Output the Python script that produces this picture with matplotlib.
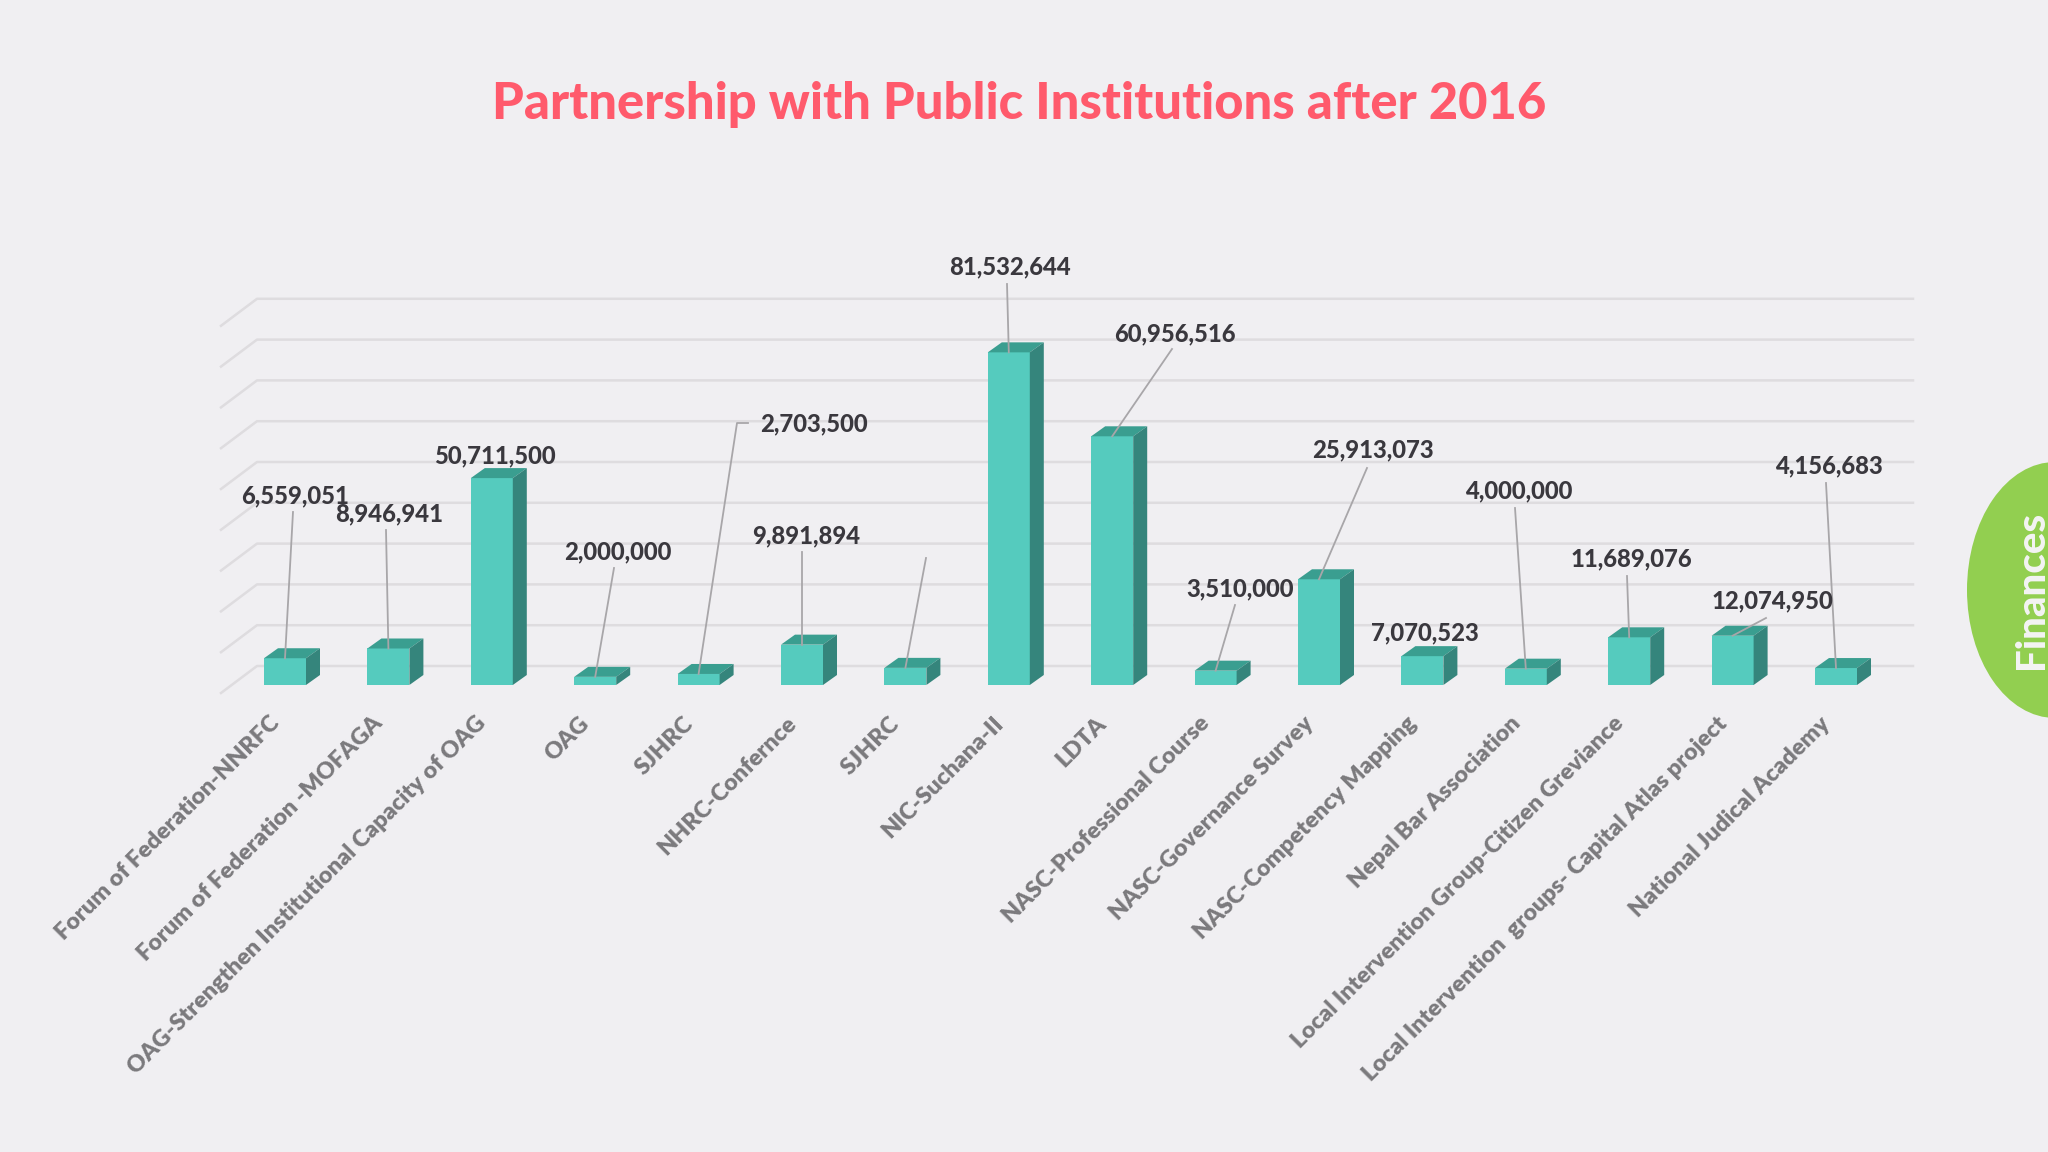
import matplotlib
matplotlib.use("Agg")
import matplotlib.pyplot as plt
from matplotlib.patches import Polygon, Ellipse

categories = ["Forum of Federation-NNRFC", "Forum of Federation -MOFAGA",
              "OAG-Strengthen Institutional Capacity of OAG", "OAG", "SJHRC",
              "NHRC-Confernce", "SJHRC", "NIC-Suchana-II", "LDTA",
              "NASC-Professional Course", "NASC-Governance Survey",
              "NASC-Competency Mapping", "Nepal Bar Association",
              "Local Intervention Group-Citizen Greviance",
              "Local Intervention  groups- Capital Atlas project",
              "National Judical Academy"]
values = [6559051, 8946941, 50711500, 2000000, 2703500, 9891894, 4200000, 81532644,
          60956516, 3510000, 25913073, 7070523, 4000000, 11689076, 12074950, 4156683]
value_labels = ["6,559,051", "8,946,941", "50,711,500", "2,000,000", "2,703,500", "9,891,894",
                None, "81,532,644", "60,956,516", "3,510,000", "25,913,073", "7,070,523",
                "4,000,000", "11,689,076", "12,074,950", "4,156,683"]
grid_levels = [0, 10, 20, 30, 40, 50, 60, 70, 80, 90]

# layout, in reference pixels
label_xy = [(295, 496), (389, 514), (495, 456), (618, 552), (814, 424), (806, 536), None,
            (1010, 267), (1175, 334), (1240, 589), (1373, 450), (1425, 633), (1519, 491),
            (1631, 559), (1772, 601), (1829, 466)]
leader_xy = [(293, 512), (386, 530), None, (614, 568), (737, 423), (802, 552), (926, 558),
             (1007, 284), (1172, 349), (1235, 605), (1367, 468), None, (1515, 508),
             (1627, 576), (1766, 618), (1826, 483)]

BG = "#F0EFF2"
FRONT, TOP, SIDE = "#55CBBE", "#3A9E90", "#35857C"
GRID = "#DEDCDF"
STEP, PER_M = 103.4, 4.08  # pixels per category, pixels per million
X0, Y0 = 285, 685


def px(x, y):
    return (x - X0) / STEP, (Y0 - y) / PER_M


plt.rcParams["font.family"] = ["Lato", "DejaVu Sans"]

fig = plt.figure(figsize=(20.48, 11.52), dpi=100, facecolor=BG)
ax = fig.add_axes([0, 0, 1, 1])
ax.set_xlim((0 - X0) / STEP, (2048 - X0) / STEP)
ax.set_ylim((Y0 - 1152) / PER_M, Y0 / PER_M)
ax.axis("off")

hw = 21 / STEP
dx, dy = 14 / STEP, 10 / PER_M

# floor/wall grid
back_dx = 36 / STEP
left = (221 - X0) / STEP
right = (1913 - X0) / STEP
for g in grid_levels:
    yf = g + (685 - 693) / PER_M
    ax.plot([left, left + back_dx, right], [yf, yf + 27 / PER_M, yf + 27 / PER_M],
            color=GRID, lw=1.8, zorder=1, solid_joinstyle="round")

# 3D bars
for i, v in enumerate(values):
    h = v / 1e6
    ax.add_patch(Polygon([(i - hw, 0), (i + hw, 0), (i + hw, h), (i - hw, h)], fc=FRONT, ec="none", zorder=3))
    ax.add_patch(Polygon([(i - hw, h), (i + hw, h), (i + hw + dx, h + dy), (i - hw + dx, h + dy)], fc=TOP, ec="none", zorder=3))
    ax.add_patch(Polygon([(i + hw, 0), (i + hw + dx, dy), (i + hw + dx, h + dy), (i + hw, h)], fc=SIDE, ec="none", zorder=3))

# leader lines
for i, v in enumerate(values):
    if leader_xy[i] is None:
        continue
    lx, ly = px(*leader_xy[i])
    xs, ys = [lx, i], [ly, v / 1e6]
    if i == 4:
        hx, _ = px(748, 423)
        xs, ys = [hx, lx, i], [ly, ly, v / 1e6]
    ax.plot(xs, ys, color="#A8A6A9", lw=1.3, zorder=4)

# value labels
for i, lab in enumerate(value_labels):
    if lab is None:
        continue
    lx, ly = px(*label_xy[i])
    ax.text(lx, ly, lab, ha="center", va="center", fontsize=17.2, fontweight="black", color="#3A383E", zorder=5)

# category labels
for i, c in enumerate(categories):
    ax.text(i - 0.16, -6.8, c, rotation=45, rotation_mode="anchor", ha="right", va="top",
            fontsize=16.8, fontweight="heavy", color="#7B7A7D", zorder=5)

tx, ty = px(1019, 104)
ax.text(tx, ty, "Partnership with Public Institutions after 2016", ha="center", va="center",
        fontsize=36.5, fontweight="black", color="#FF5A6C")

# side tab
ex, ey = px(2055, 590)
ax.add_patch(Ellipse((ex, ey), 176 / STEP, 256 / PER_M, fc="#92CF50", ec="none", zorder=6))
fx, fy = px(2032, 590)
ax.text(fx, fy, "Finances", rotation=90, ha="center", va="center", fontsize=29, fontweight="black", color="#F4F4F4", zorder=7)

fig.savefig("out.png", dpi=100, facecolor=BG)
